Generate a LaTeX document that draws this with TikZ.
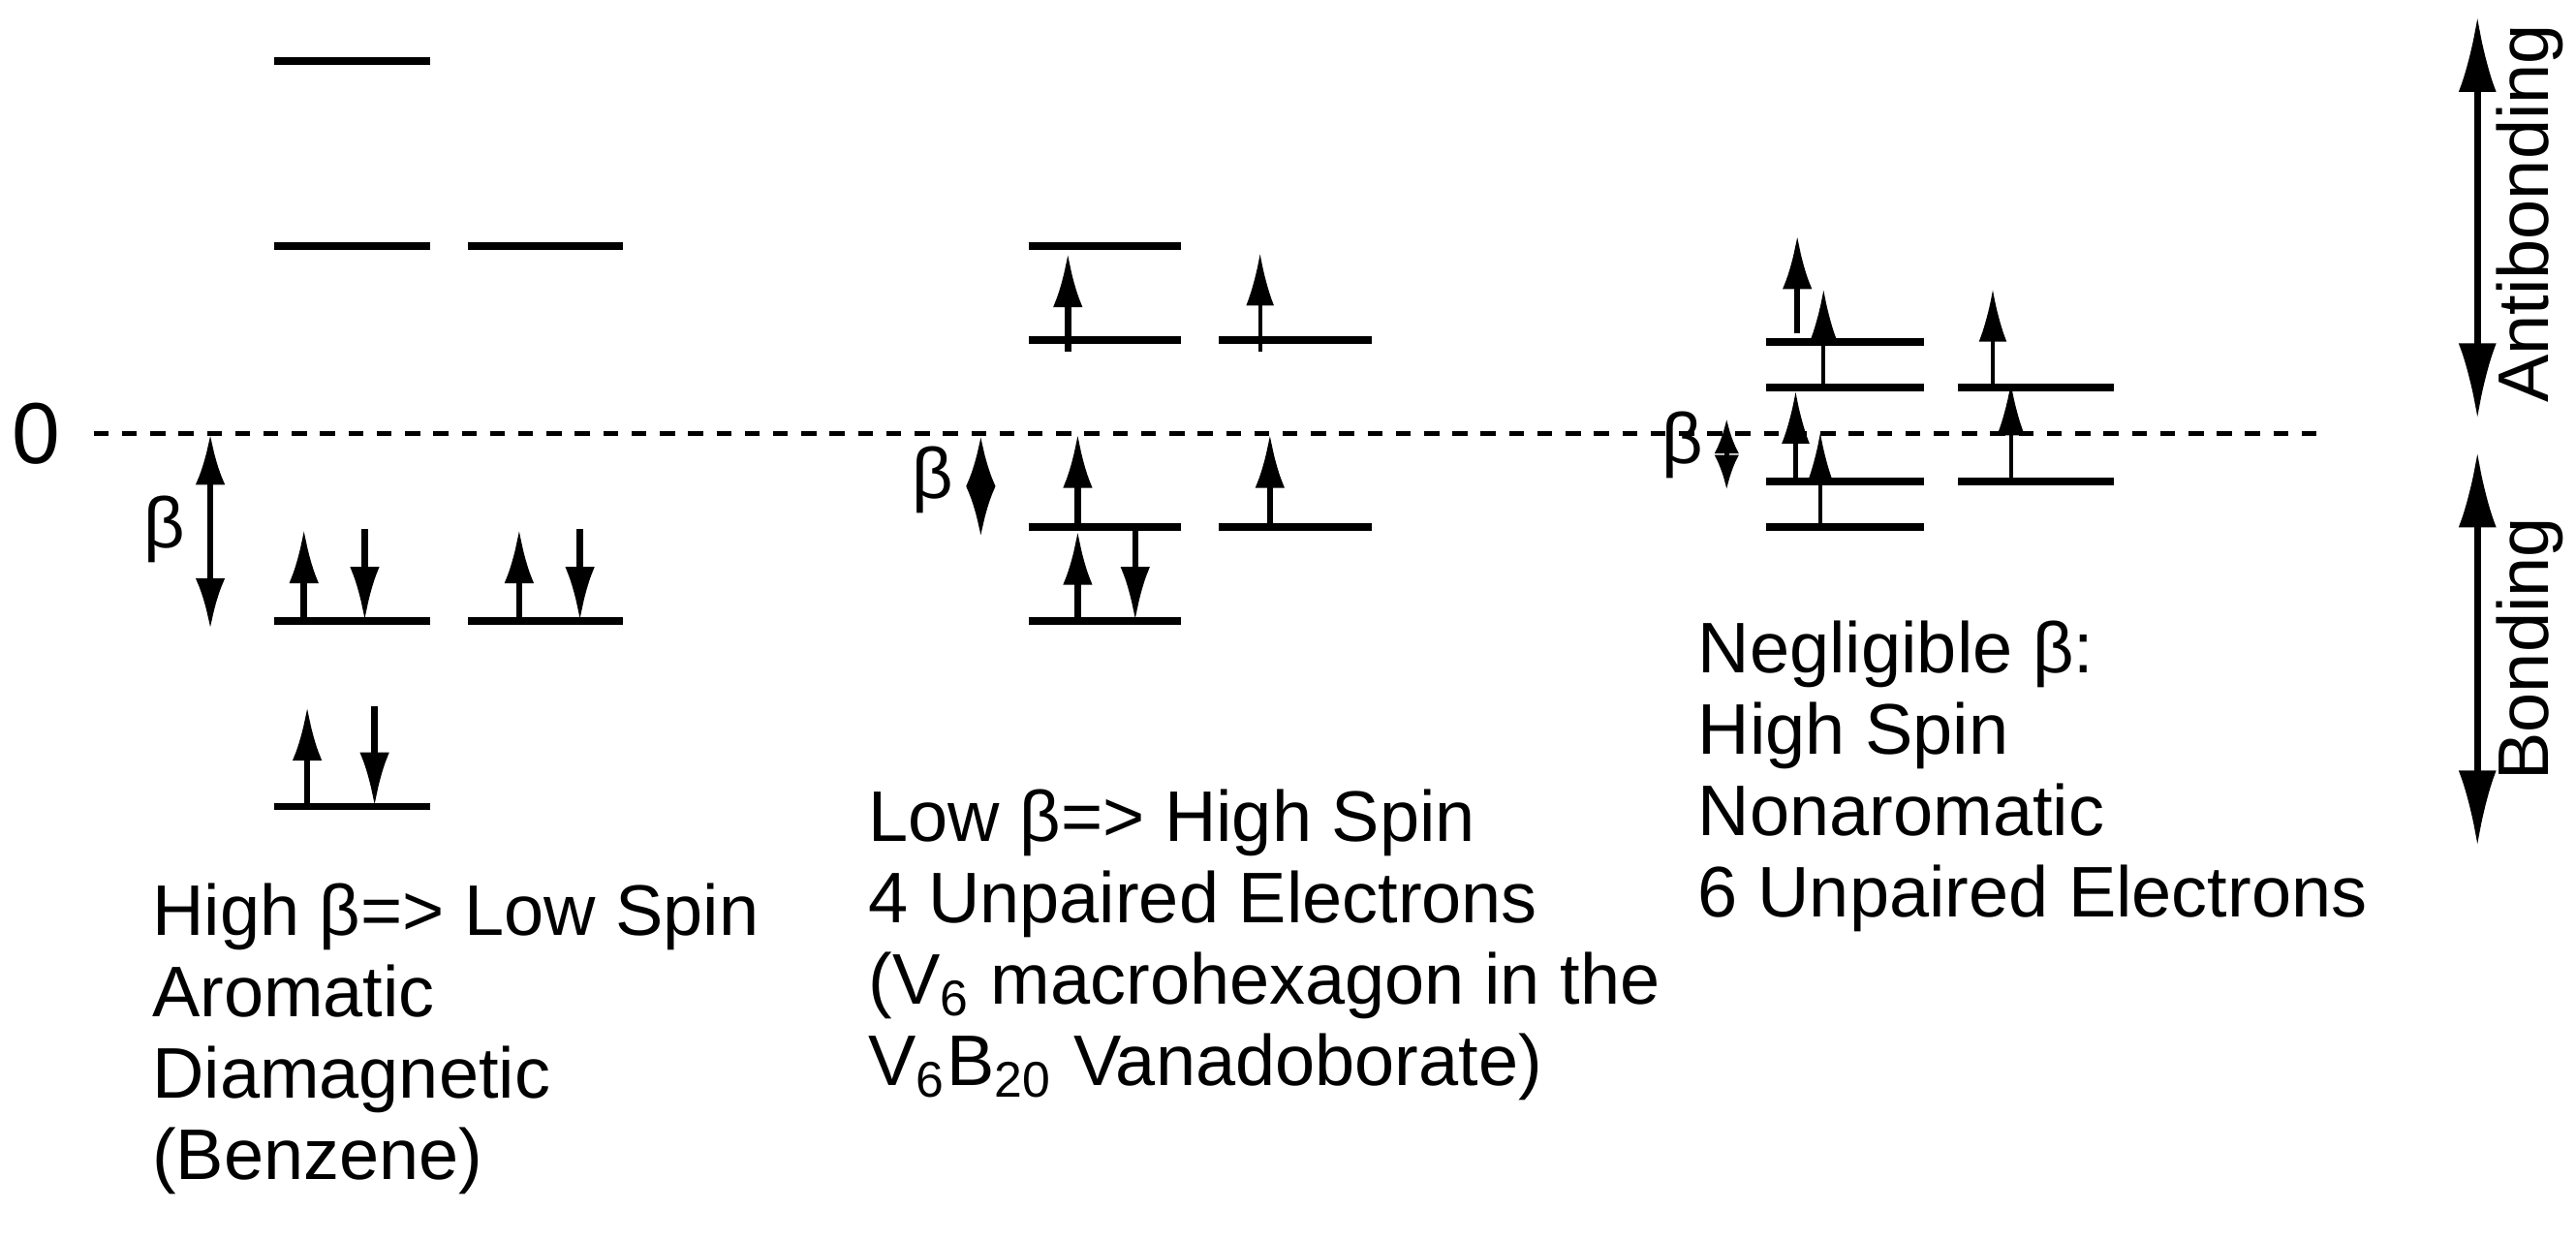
\documentclass[tikz,border=0pt]{standalone}
\usepackage{fontspec}
\setmainfont{Liberation Sans}
\usetikzlibrary{arrows.meta}
\tikzset{
  level/.style={line width=1.3pt},
  zero/.style={line width=0.8pt, dash pattern=on 2.6pt off 2.3pt},
  spin/.style={line width=1.1pt, -{Latex[length=3.3mm,width=1.8mm]}},
  spinthin/.style={line width=0.7pt, -{Latex[length=3.2mm,width=1.7mm]}},
  gap/.style={line width=1.1pt, {Latex[length=3.1mm,width=1.8mm]}-{Latex[length=3.1mm,width=1.8mm]}},
  axis/.style={line width=1.1pt, {Latex[length=4.6mm,width=2.3mm]}-{Latex[length=4.6mm,width=2.3mm]}},
  label/.style={anchor=north west, inner sep=0pt, align=left, font=\fontsize{12.4}{14.1}\selectfont},
}
\begin{document}
\begin{tikzpicture}[x=0.01cm, y=-0.01cm]
\useasboundingbox (0,0) rectangle (1568,755);

% zero line
\draw[zero] (57,264) -- (1410,264);
\node (zero) [anchor=base, inner sep=0pt, font=\fontsize{15}{17}\selectfont] at (22,282) {0};

% benzene (high beta)
\foreach \y in {37,150,378,491} \draw[level] (167,\y) -- (262,\y);
\foreach \y in {150,378} \draw[level] (285,\y) -- (379,\y);
\draw[gap] (128,264) -- (128,383);
\node (betaA) [font=\fontsize{12.4}{14}\selectfont] at (100,322) {β};
\foreach \x in {185,316} {
  \draw[spin] (\x,378) -- (\x,322);
  \draw[spin] (\x+37,322) -- (\x+37,378);
}
\draw[spin] (187,491) -- (187,430);
\draw[spin] (228,430) -- (228,491);

% V6 macrohexagon (low beta)
\foreach \y in {150,207,321,378} \draw[level] (626,\y) -- (719,\y);
\foreach \y in {207,321} \draw[level] (742,\y) -- (835,\y);
\draw[gap] (597,265) -- (597,327);
\node (betaB) [font=\fontsize{12.4}{14}\selectfont] at (568,292) {β};
\draw[spin] (650,214) -- (650,154);
\draw[spinthin] (767,214) -- (767,154);
\draw[spin] (656,321) -- (656,264);
\draw[spin] (773,321) -- (773,264);
\draw[spin] (656,378) -- (656,323);
\draw[spin] (691,323) -- (691,378);

% negligible beta
\foreach \y in {208,236,293,321} \draw[level] (1075,\y) -- (1171,\y);
\foreach \y in {236,293} \draw[level] (1192,\y) -- (1287,\y);
\draw[line width=0.8pt, {Latex[length=2.1mm,width=1.5mm]}-{Latex[length=2.1mm,width=1.5mm]}] (1051,255) -- (1051,298);
\node (betaC) [font=\fontsize{12.4}{14}\selectfont] at (1024,271) {β};
\draw[spin] (1094,203) -- (1094,143);
\draw[spinthin] (1110,236) -- (1110,176);
\draw[spinthin] (1093,293) -- (1093,238);
\draw[spinthin] (1108,321) -- (1108,263);
\draw[spinthin] (1213,236) -- (1213,176);
\draw[spinthin] (1224,293) -- (1224,233);

% energy axis
\draw[axis] (1508,10) -- (1508,255);
\draw[axis] (1508,275) -- (1508,515);
\node (anti) [rotate=90, font=\fontsize{12.4}{14}\selectfont] at (1540,130) {Antibonding};
\node (bond) [rotate=90, font=\fontsize{12.4}{14}\selectfont] at (1540,395) {Bonding};

% captions
\node (capA) [label] at (92,537) {High β=> Low Spin\\Aromatic\\Diamagnetic\\(Benzene)};
\node (capB) [label] at (528,480) {Low β=> High Spin\\4 Unpaired Electrons\\(V\textsubscript{6} macrohexagon in the\\V\textsubscript{6}B\textsubscript{20} Vanadoborate)};
\node (capC) [label] at (1033,377) {Negligible β:\\High Spin\\Nonaromatic\\6 Unpaired Electrons};
\end{tikzpicture}
\end{document}
